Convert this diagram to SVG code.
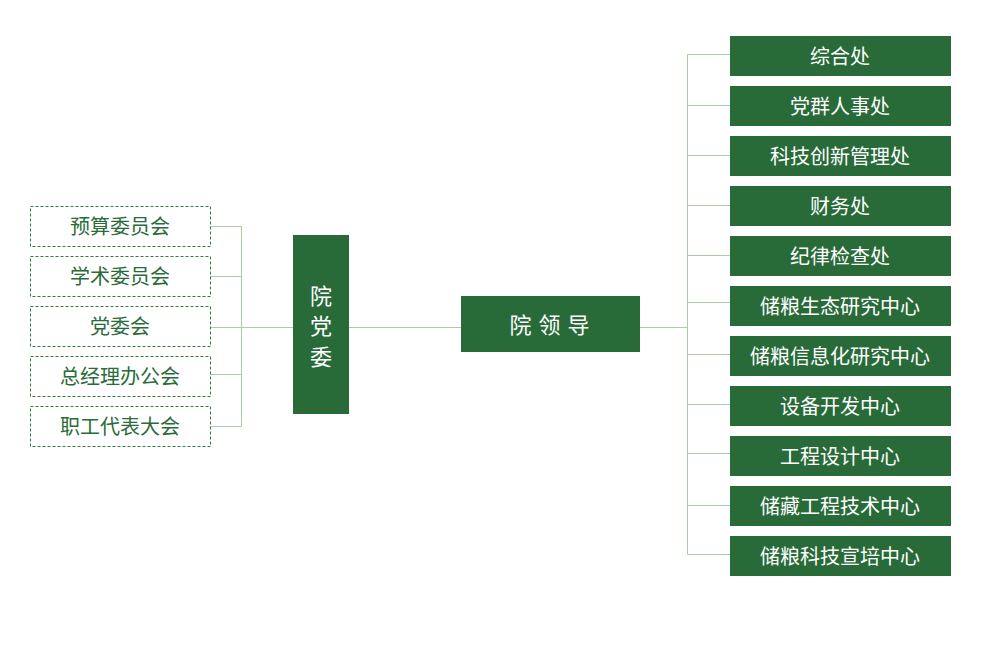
<svg xmlns="http://www.w3.org/2000/svg" width="981" height="672" viewBox="0 0 981 672">
<style>
.b{fill:#286b39}
.d{fill:#fff;stroke:#2f7a3f;stroke-width:1;stroke-dasharray:3 2}
.t{font-family:"Noto Sans CJK SC","Noto Sans",sans-serif;font-size:20px;text-anchor:middle;dominant-baseline:central}
.w{fill:#fff}
.g{fill:#2a6b3a}
.l{stroke:#a6cfaa;stroke-width:1;fill:none}
</style>
<rect width="981" height="672" fill="#fff"/>
<g id="connectors">
<path class="l" d="M210 226.5H241.5V426.5M210 276.5H241.5M210 327.5H293M210 374.5H241.5M210 426.5H241.5"/>
<path class="l" d="M349 327.5H461M640 327.5H687.5"/>
<path class="l" d="M687.5 54.5V554.5M687.5 54.5H730M687.5 105.5H730M687.5 155.5H730M687.5 205.5H730M687.5 255.5H730M687.5 302.5H730M687.5 354.5H730M687.5 404.5H730M687.5 453.5H730M687.5 505.5H730M687.5 554.5H730"/>
</g>
<g id="n-ysw"><rect class="d" x="30.5" y="206.5" width="180" height="40"/><text class="t g" x="120" y="225">预算委员会</text></g>
<g id="n-xsw"><rect class="d" x="30.5" y="256.5" width="180" height="40"/><text class="t g" x="120" y="275">学术委员会</text></g>
<g id="n-dwh"><rect class="d" x="30.5" y="306.5" width="180" height="40"/><text class="t g" x="120" y="325">党委会</text></g>
<g id="n-zjl"><rect class="d" x="30.5" y="356.5" width="180" height="40"/><text class="t g" x="120" y="375">总经理办公会</text></g>
<g id="n-zgdb"><rect class="d" x="30.5" y="406.5" width="180" height="40"/><text class="t g" x="120" y="425">职工代表大会</text></g>
<g id="n-ydw"><rect class="b" x="293" y="235" width="56" height="179"/>
<text class="t w" x="321" y="294" style="font-size:22px">院</text>
<text class="t w" x="321" y="324" style="font-size:22px">党</text>
<text class="t w" x="321" y="355" style="font-size:22px">委</text></g>
<g id="n-yld"><rect class="b" x="461" y="296" width="179" height="56"/><text class="t w" x="553" y="323" style="font-size:22px;letter-spacing:7px">院领导</text></g>
<g id="n-r1"><rect class="b" x="730" y="36" width="221" height="40"/><text class="t w" x="840" y="55">综合处</text></g>
<g id="n-r2"><rect class="b" x="730" y="86" width="221" height="40"/><text class="t w" x="840" y="105">党群人事处</text></g>
<g id="n-r3"><rect class="b" x="730" y="136" width="221" height="40"/><text class="t w" x="840" y="155">科技创新管理处</text></g>
<g id="n-r4"><rect class="b" x="730" y="186" width="221" height="40"/><text class="t w" x="840" y="205">财务处</text></g>
<g id="n-r5"><rect class="b" x="730" y="236" width="221" height="40"/><text class="t w" x="840" y="255">纪律检查处</text></g>
<g id="n-r6"><rect class="b" x="730" y="286" width="221" height="40"/><text class="t w" x="840" y="305">储粮生态研究中心</text></g>
<g id="n-r7"><rect class="b" x="730" y="336" width="221" height="40"/><text class="t w" x="840" y="355">储粮信息化研究中心</text></g>
<g id="n-r8"><rect class="b" x="730" y="386" width="221" height="40"/><text class="t w" x="840" y="405">设备开发中心</text></g>
<g id="n-r9"><rect class="b" x="730" y="436" width="221" height="40"/><text class="t w" x="840" y="455">工程设计中心</text></g>
<g id="n-r10"><rect class="b" x="730" y="486" width="221" height="40"/><text class="t w" x="840" y="505">储藏工程技术中心</text></g>
<g id="n-r11"><rect class="b" x="730" y="536" width="221" height="40"/><text class="t w" x="840" y="555">储粮科技宣培中心</text></g>
</svg>
